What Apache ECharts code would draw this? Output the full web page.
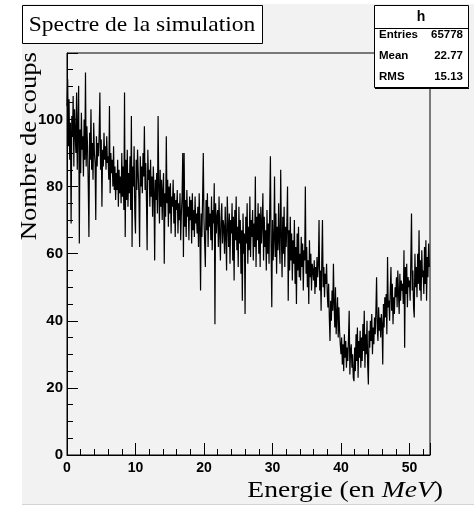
<!DOCTYPE html>
<html>
<head>
<meta charset="utf-8">
<script src="https://cdn.jsdelivr.net/npm/echarts@6/dist/echarts.min.js"></script>
<style>
html,body{margin:0;padding:0;background:#fff;}
#c{width:474px;height:506px;}
</style>
</head>
<body>
<div id="c"></div>
<script>
// ---- data ----
const binWidth = 0.1;        // MeV per bin
const xMin = 0, xMax = 53;
const yMin = 0, yMax = 119.8;
const xTicks = [0, 10, 20, 30, 40, 50];
const yTicks = [0, 20, 40, 60, 80, 100];
// one row = 1 MeV (10 bins)
const counts = [
  104, 112, 92, 106, 88, 99, 69, 101, 95, 107,
  86, 103, 96, 90, 108, 85, 99, 110, 63, 97,
  84, 102, 91, 95, 83, 100, 88, 114, 86, 98,
  92, 81, 65, 96, 88, 103, 85, 93, 82, 99,
  90, 87, 70, 95, 86, 93, 89, 96, 108, 85,
  94, 74, 91, 86, 96, 88, 92, 85, 95, 87,
  89, 82, 104, 78, 90, 84, 88, 80, 92, 79,
  86, 76, 84, 79, 88, 74, 85, 78, 83, 75,
  90, 77, 86, 73, 108, 65, 88, 76, 91, 74,
  84, 78, 89, 73, 101, 62, 86, 80, 92, 72,
  66, 88, 79, 91, 84, 77, 62, 89, 80, 86,
  78, 90, 83, 98, 79, 87, 76, 61, 91, 82,
  85, 74, 88, 77, 83, 71, 86, 79, 58, 82,
  76, 84, 72, 101, 80, 69, 85, 74, 82, 70,
  79, 84, 57, 78, 71, 95, 75, 82, 68, 80,
  72, 81, 66, 77, 74, 82, 69, 78, 65, 76,
  73, 79, 66, 75, 70, 78, 64, 72, 77, 90,
  59, 90, 68, 76, 65, 79, 71, 74, 64, 77,
  70, 76, 63, 78, 67, 73, 65, 77, 69, 72,
  66, 74, 62, 78, 68, 49, 72, 65, 77, 90,
  70, 63, 56, 76, 67, 78, 62, 74, 68, 72,
  64, 77, 61, 73, 69, 81, 39, 75, 66, 71,
  73, 62, 77, 66, 58, 71, 75, 63, 70, 68,
  60, 74, 65, 55, 77, 69, 62, 72, 57, 70,
  66, 75, 58, 71, 52, 73, 64, 77, 61, 68,
  56, 74, 63, 70, 54, 67, 46, 72, 60, 66,
  42, 71, 63, 75, 57, 68, 61, 77, 59, 70,
  65, 73, 58, 69, 62, 83, 56, 71, 64, 75,
  60, 72, 56, 74, 63, 69, 78, 58, 71, 62,
  67, 55, 73, 60, 69, 57, 74, 89, 62, 44,
  70, 58, 64, 83, 59, 72, 54, 68, 61, 75,
  63, 57, 85, 66, 53, 71, 60, 74, 56, 68,
  62, 69, 80, 46, 67, 55, 71, 58, 66, 52,
  64, 57, 70, 51, 62, 45, 66, 55, 68, 53,
  60, 52, 65, 56, 63, 49, 61, 58, 80, 54,
  62, 50, 58, 45, 64, 53, 60, 49, 57, 55,
  52, 58, 48, 56, 50, 59, 53, 57, 70, 49,
  55, 43, 58, 70, 50, 56, 47, 54, 51, 57,
  48, 44, 51, 41, 34, 46, 40, 49, 43, 57,
  45, 38, 50, 36, 42, 47, 35, 44, 37, 33,
  30, 35, 27, 33, 25, 36, 29, 34, 26, 32,
  28, 35, 43, 24, 31, 33, 26, 30, 23, 22,
  32, 25, 36, 28, 38, 23, 34, 29, 37, 26,
  35, 28, 39, 31, 43, 26, 36, 30, 40, 27,
  21, 37, 32, 40, 34, 42, 30, 38, 33, 41,
  36, 43, 53, 38, 34, 44, 37, 41, 35, 42,
  39, 27, 45, 38, 47, 41, 48, 36, 59, 44,
  46, 40, 49, 56, 43, 51, 39, 47, 42, 50,
  47, 53, 44, 55, 48, 42, 54, 46, 52, 49,
  51, 45, 61, 32, 56, 48, 57, 44, 53, 50,
  52, 46, 58, 72, 49, 55, 44, 41, 60, 50,
  56, 47, 60, 51, 67, 49, 58, 46, 61, 53,
  55, 48, 62, 51, 64, 46, 59, 53, 63, 56
];
const statsTitle = 'h';
const statsRows = [['Entries', '65778'], ['Mean', '22.77'], ['RMS', '15.13']];
const chartTitle = 'Spectre de la simulation';
const yTitle = 'Nombre de coups';

// ---- build ----
const lineData = counts.map((v, i) => [xMin + i * binWidth, v]);
lineData.push([xMin + counts.length * binWidth, counts[counts.length - 1]]);

const serif = '"Liberation Serif", "DejaVu Serif", serif';
const sans = '"Liberation Sans", Arial, sans-serif';

const chart = echarts.init(document.getElementById('c'), null, {renderer: 'canvas'});

const statsGraphics = [];
const bx = 374, by = 5, bw = 94, bh = 82;
statsGraphics.push({type: 'rect', z: 100, shape: {x: bx + 0.5, y: by + 0.5, width: bw, height: bh},
  style: {fill: '#fff', stroke: '#000', lineWidth: 1}});
statsGraphics.push({type: 'line', z: 101, shape: {x1: bx + 1, y1: by + bh + 1.5, x2: bx + bw + 1, y2: by + bh + 1.5},
  style: {stroke: '#000', lineWidth: 1}});
statsGraphics.push({type: 'line', z: 101, shape: {x1: bx, y1: by + 23.5, x2: bx + bw, y2: by + 23.5},
  style: {stroke: '#000', lineWidth: 1}});
statsGraphics.push({type: 'text', z: 102, x: bx + bw / 2, y: by + 12,
  style: {text: statsTitle, font: 'bold 14px ' + sans, fill: '#000', textAlign: 'center', textVerticalAlign: 'middle'}});
statsRows.forEach((r, i) => {
  const yy = by + 30 + i * 20.8;
  statsGraphics.push({type: 'text', z: 102, x: bx + 5, y: yy,
    style: {text: r[0], font: 'bold 11.5px ' + sans, fill: '#000', textAlign: 'left', textVerticalAlign: 'middle'}});
  statsGraphics.push({type: 'text', z: 102, x: bx + bw - 5, y: yy,
    style: {text: r[1], font: 'bold 11.5px ' + sans, fill: '#000', textAlign: 'right', textVerticalAlign: 'middle'}});
});

const option = {
  animation: false,
  backgroundColor: '#fff',
  grid: {left: 67, right: 44, top: 53, bottom: 51, show: true, borderColor: '#000', borderWidth: 1, backgroundColor: 'transparent', containLabel: false},
  xAxis: [
    {type: 'value', min: xMin, max: xMax, interval: 10, position: 'bottom',
      axisLine: {show: true, onZero: false, lineStyle: {color: '#000', width: 1}},
      axisTick: {show: true, inside: true, length: 12, lineStyle: {color: '#000', width: 1}},
      axisLabel: {margin: 6, color: '#000', fontFamily: sans, fontWeight: 'bold', fontSize: 14,
        formatter: v => xTicks.indexOf(v) >= 0 ? String(v) : ''},
      splitLine: {show: false}},
    {type: 'value', min: xMin, max: xMax, interval: 2, position: 'bottom',
      axisLine: {show: false, onZero: false},
      axisTick: {show: true, inside: true, length: 6, lineStyle: {color: '#000', width: 1}},
      axisLabel: {show: false}, splitLine: {show: false}}
  ],
  yAxis: [
    {type: 'value', min: yMin, max: yMax, interval: 20, position: 'left',
      axisLine: {show: true, onZero: false, lineStyle: {color: '#000', width: 1}},
      axisTick: {show: true, inside: true, length: 11, lineStyle: {color: '#000', width: 1}},
      axisLabel: {margin: 4, color: '#000', fontFamily: sans, fontWeight: 'bold', fontSize: 15,
        formatter: v => yTicks.indexOf(v) >= 0 ? String(v) : ''},
      splitLine: {show: false}},
    {type: 'value', min: yMin, max: yMax, interval: 5, position: 'left',
      axisLine: {show: false, onZero: false},
      axisTick: {show: true, inside: true, length: 6, lineStyle: {color: '#000', width: 1}},
      axisLabel: {show: false}, splitLine: {show: false}}
  ],
  series: [{
    type: 'line', xAxisIndex: 0, yAxisIndex: 0, step: 'end', data: lineData,
    showSymbol: false, symbol: 'none', lineStyle: {color: '#000', width: 1.2}, z: 5
  }],
  graphic: {elements: [
    {type: 'rect', z: -10, silent: true, shape: {x: 22, y: 4, width: 452, height: 500}, style: {fill: '#f2f2f2'}},
    {type: 'line', z: -9, silent: true, shape: {x1: 22, y1: 504.5, x2: 474, y2: 504.5}, style: {stroke: '#d4d4d4', lineWidth: 1}},
    {type: 'rect', z: 100, shape: {x: 22.5, y: 5.5, width: 240, height: 38}, style: {fill: '#fff', stroke: '#000', lineWidth: 1}},
    {type: 'text', z: 101, x: 142, y: 25, scaleX: 1.12, originX: 0, originY: 0,
      style: {text: chartTitle, font: '21px ' + serif, fill: '#000', textAlign: 'center', textVerticalAlign: 'middle'}},
    {type: 'text', z: 101, x: 30, y: 52, rotation: Math.PI / 2, scaleX: 1.16,
      style: {text: yTitle, font: '23px ' + serif, fill: '#000', textAlign: 'right', textVerticalAlign: 'middle'}},
    {type: 'text', z: 101, x: 443, y: 491, scaleX: 1.2,
      style: {text: 'Energie (en {it|MeV})', font: '23px ' + serif, fill: '#000', textAlign: 'right', textVerticalAlign: 'middle',
        rich: {it: {fontStyle: 'italic', fontFamily: serif, fontSize: 23}}}}
  ].concat(statsGraphics)}
};
chart.setOption(option);
</script>
</body>
</html>
